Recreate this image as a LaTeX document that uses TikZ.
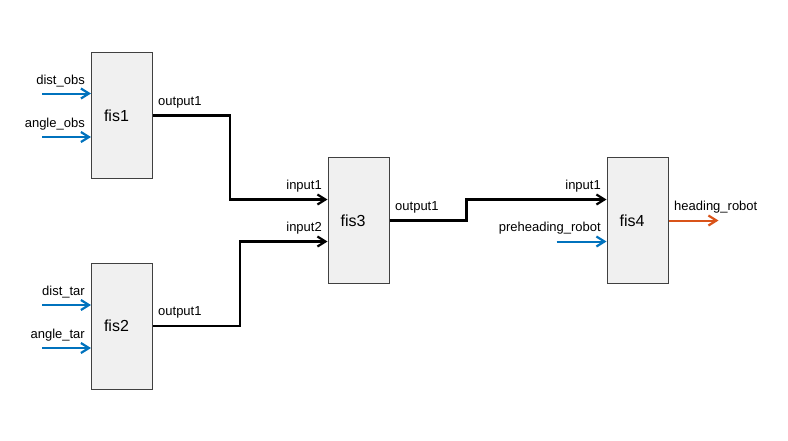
\documentclass[tikz,border=0pt]{standalone}
\usepackage{fontspec}
\setmainfont{Liberation Sans}
\usetikzlibrary{arrows.meta,calc}
\definecolor{mblue}{HTML}{0072BD}
\definecolor{morange}{HTML}{D95319}
\definecolor{boxfill}{HTML}{F0F0F0}
\definecolor{boxline}{HTML}{404040}
\tikzset{
  fisbox/.style={draw=boxline, fill=boxfill, line width=1pt, minimum width=61pt, minimum height=126pt, inner sep=0pt, font=\fontsize{16}{18}\selectfont},
  lbl/.style={inner sep=0pt, font=\fontsize{13}{15}\selectfont},
  tipv/.style={-{Straight Barb[length=8pt,width=10pt,line width=2.2pt]}},
  sig/.style={tipv, line width=2.5pt, black, line join=miter},
  inarrow/.style={tipv, line width=2pt, mblue},
  outarrow/.style={tipv, line width=2pt, morange}
}
\newcommand{\fistext}[1]{\hspace*{-11pt}\raisebox{-2pt}{#1}}
\begin{document}
\begin{tikzpicture}[x=1pt,y=-1pt]
\useasboundingbox (0,0) rectangle (788,440);
\node[fisbox] (fis1) at (122,115.5) {\fistext{fis1}};
\node[fisbox] (fis2) at (122,326) {\fistext{fis2}};
\node[fisbox] (fis3) at (358.5,220.5) {\fistext{fis3}};
\node[fisbox] (fis4) at (637.5,220.5) {\fistext{fis4}};
% input points
\coordinate (i11) at ([yshift=22pt]fis1.west);
\coordinate (i12) at ([yshift=-21.5pt]fis1.west);
\coordinate (i21) at ([yshift=21pt]fis2.west);
\coordinate (i22) at ([yshift=-22pt]fis2.west);
\coordinate (i31) at ([yshift=21pt]fis3.west);
\coordinate (i32) at ([yshift=-21pt]fis3.west);
\coordinate (i41) at ([yshift=21pt]fis4.west);
\coordinate (i42) at ([yshift=-21pt]fis4.west);
% free ends
\coordinate (s11) at ($(i11)+(-49,0)$);
\coordinate (s12) at ($(i12)+(-49,0)$);
\coordinate (s21) at ($(i21)+(-49,0)$);
\coordinate (s22) at ($(i22)+(-49,0)$);
\coordinate (s42) at ($(i42)+(-50,0)$);
\coordinate (o4) at ($(fis4.east)+(50,0)$);
% blue inputs
\draw[inarrow] (s11) -- (i11);
\draw[inarrow] (s12) -- (i12);
\draw[inarrow] (s21) -- (i21);
\draw[inarrow] (s22) -- (i22);
\draw[inarrow] (s42) -- (i42);
% black signals
\draw[sig] (fis1.east) -- ++(77,0) |- (i31);
\draw[sig] (fis2.east) -- ++(87,0) |- (i32);
\draw[sig] (fis3.east) -- ++(77,0) |- (i41);
% orange output
\draw[outarrow] (fis4.east) -- (o4);
% labels
\node[lbl, anchor=base east] at (85,84) {dist\_obs};
\node[lbl, anchor=base east] at (85,127) {angle\_obs};
\node[lbl, anchor=base east] at (85,295) {dist\_tar};
\node[lbl, anchor=base east] at (85,338) {angle\_tar};
\node[lbl, anchor=base west] at (158,105) {output1};
\node[lbl, anchor=base west] at (158,315) {output1};
\node[lbl, anchor=base east] at (322,189) {input1};
\node[lbl, anchor=base east] at (322,231) {input2};
\node[lbl, anchor=base west] at (395,210) {output1};
\node[lbl, anchor=base east] at (601,189) {input1};
\node[lbl, anchor=base east] at (601,231) {preheading\_robot};
\node[lbl, anchor=base west] at (674,210) {heading\_robot};
\end{tikzpicture}
\end{document}
